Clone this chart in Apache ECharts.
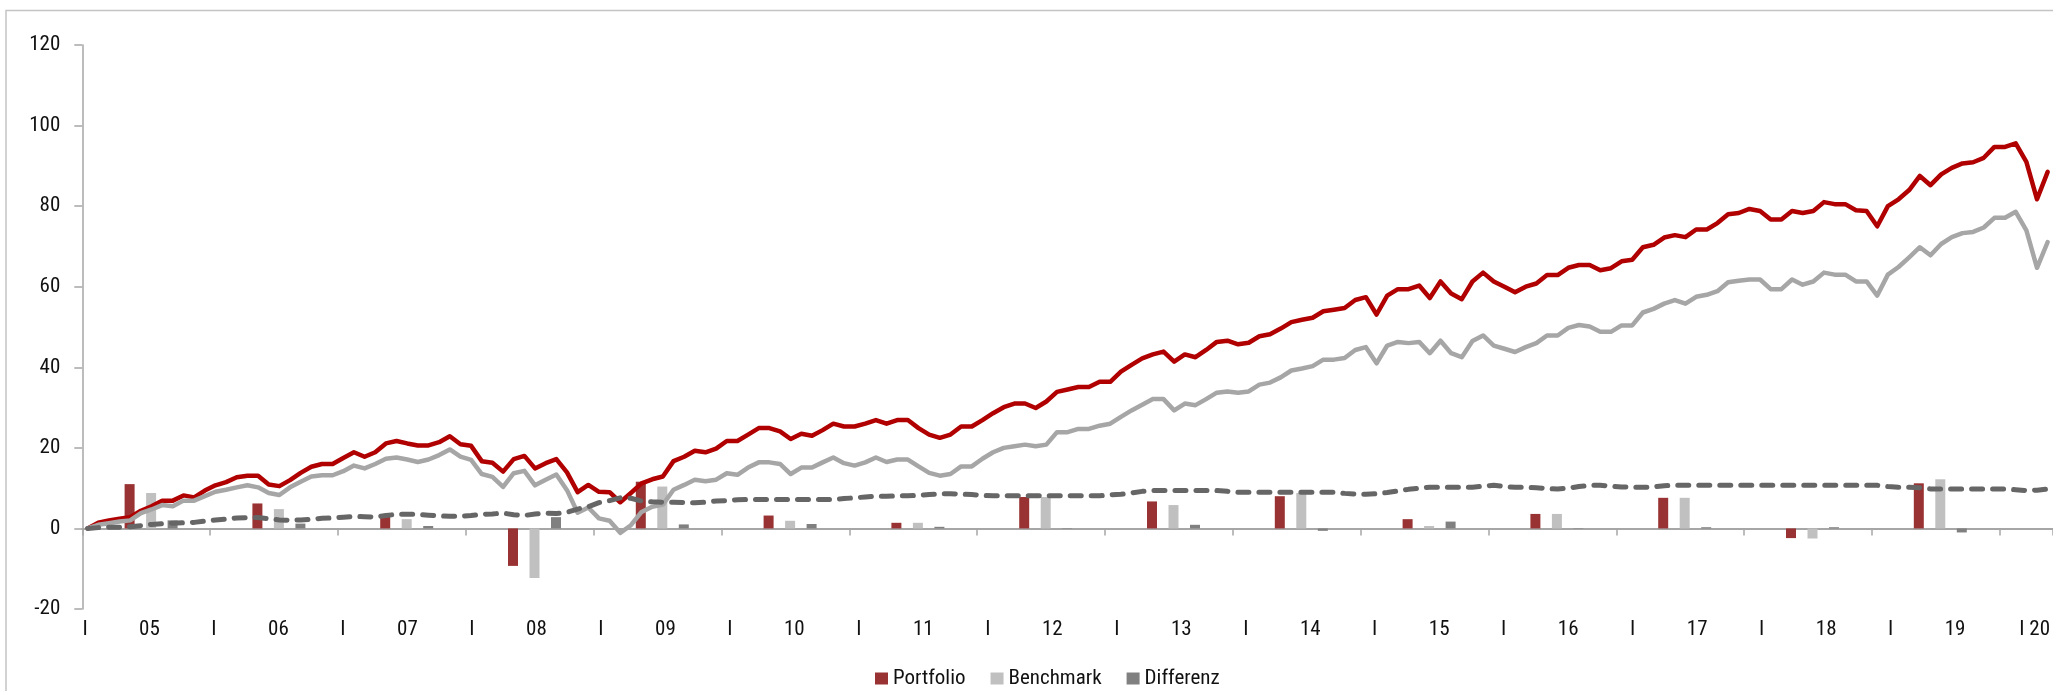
<!DOCTYPE html>
<html>
<head>
<meta charset="utf-8">
<script src="https://cdn.jsdelivr.net/npm/echarts@6/dist/echarts.min.js"></script>
<style>
  html, body { margin: 0; padding: 0; background: #fff; }
  #chart { width: 2053px; height: 691px; }
</style>
</head>
<body>
<div id="chart"></div>
<script>
// ---- Data ----
const startYear = 2004, startMonth = 12, monthCount = 185;

const portfolioCum = [
  0, 1.4, 2.0, 2.4, 2.8, 4.4, 5.5, 6.9, 6.9, 8.2, 7.7, 9.4,
  10.7, 11.5, 12.7, 13.1, 13.1, 10.9, 10.5, 12.0, 13.8, 15.3, 16.0, 16.0,
  17.5, 18.9, 17.8, 18.9, 21.1, 21.7, 21.1, 20.6, 20.6, 21.4, 22.9, 20.9,
  20.5, 16.7, 16.3, 14.1, 17.2, 18.0, 14.9, 16.2, 17.2, 13.9, 9.0, 10.8,
  9.1, 9.0, 6.5, 8.8, 11.2, 12.2, 12.9, 16.7, 17.8, 19.3, 18.9, 19.8,
  21.7, 21.7, 23.3, 24.9, 24.9, 24.1, 22.2, 23.5, 23.0, 24.4, 26.0, 25.3,
  25.3, 26.0, 26.9, 26.0, 26.9, 26.9, 24.9, 23.3, 22.5, 23.3, 25.3, 25.3,
  26.9, 28.6, 30.1, 31.0, 31.0, 29.9, 31.5, 33.9, 34.5, 35.1, 35.1, 36.4,
  36.4, 38.9, 40.6, 42.2, 43.2, 43.9, 41.4, 43.2, 42.5, 44.3, 46.3, 46.6,
  45.7, 46.1, 47.7, 48.2, 49.6, 51.2, 51.8, 52.3, 53.9, 54.3, 54.7, 56.7,
  57.4, 53.1, 57.8, 59.4, 59.4, 60.3, 57.2, 61.3, 58.3, 56.9, 61.3, 63.5,
  61.3, 60.0, 58.6, 60.0, 60.8, 62.9, 62.9, 64.7, 65.4, 65.4, 64.1, 64.6,
  66.3, 66.7, 69.8, 70.4, 72.2, 72.8, 72.3, 74.2, 74.2, 75.8, 78.0, 78.3,
  79.3, 78.8, 76.7, 76.7, 78.8, 78.3, 78.8, 81.0, 80.5, 80.5, 79.0, 78.8,
  75.0, 80.0, 81.7, 84.0, 87.5, 85.2, 87.9, 89.5, 90.6, 90.9, 92.0, 94.7,
  94.7, 95.6, 91.0, 81.7, 88.5
];

const benchmarkCum = [
  0, 0.9, 1.3, 1.7, 2.0, 3.8, 4.7, 5.8, 5.5, 6.9, 6.9, 8.0,
  9.1, 9.6, 10.2, 10.7, 10.2, 8.8, 8.3, 10.2, 11.6, 12.9, 13.2, 13.2,
  14.2, 15.6, 14.9, 16.0, 17.3, 17.6, 17.1, 16.5, 17.1, 18.2, 19.6, 17.8,
  17.0, 13.5, 12.8, 10.3, 13.7, 14.3, 10.7, 12.1, 13.4, 9.5, 3.9, 5.2,
  2.5, 1.9, -1.1, 0.8, 4.1, 5.4, 5.9, 9.6, 10.8, 12.1, 11.7, 12.1,
  13.7, 13.3, 15.1, 16.4, 16.4, 16.0, 13.5, 15.1, 15.1, 16.4, 17.6, 16.2,
  15.6, 16.4, 17.6, 16.5, 17.1, 17.1, 15.4, 13.8, 13.1, 13.5, 15.4, 15.4,
  17.3, 18.9, 20.0, 20.4, 20.8, 20.4, 20.8, 23.9, 23.9, 24.7, 24.7, 25.5,
  26.0, 27.7, 29.3, 30.7, 32.1, 32.1, 29.3, 31.0, 30.6, 32.1, 33.7, 34.0,
  33.7, 34.0, 35.7, 36.2, 37.5, 39.2, 39.7, 40.3, 41.9, 41.9, 42.3, 44.3,
  45.0, 41.0, 45.4, 46.3, 46.0, 46.3, 43.5, 46.6, 43.5, 42.5, 46.5, 47.9,
  45.4, 44.6, 43.8, 45.0, 46.0, 47.9, 47.9, 49.8, 50.5, 50.1, 48.8, 48.8,
  50.4, 50.4, 53.6, 54.5, 55.8, 56.7, 55.8, 57.5, 58.0, 58.9, 61.1, 61.5,
  61.8, 61.8, 59.4, 59.4, 61.8, 60.5, 61.3, 63.5, 63.0, 63.0, 61.3, 61.3,
  57.8, 63.0, 64.9, 67.3, 69.8, 67.8, 70.6, 72.3, 73.3, 73.6, 74.7, 77.1,
  77.1, 78.6, 74.0, 64.7, 71.1
];

const differenzCum = [
  0, 0.2, 0.3, 0.3, 0.4, 0.7, 1.0, 1.2, 1.3, 1.4, 1.5, 1.8,
  2.1, 2.3, 2.6, 2.7, 2.7, 2.4, 2.1, 2.0, 2.1, 2.3, 2.5, 2.6,
  2.8, 3.0, 2.9, 2.8, 3.2, 3.5, 3.5, 3.5, 3.3, 3.1, 3.0, 3.0,
  3.2, 3.5, 3.6, 3.8, 3.4, 3.2, 3.6, 3.8, 3.7, 4.0, 4.8, 5.4,
  6.4, 6.9, 7.6, 7.5, 6.8, 6.6, 6.5, 6.5, 6.4, 6.4, 6.5, 6.8,
  6.9, 7.1, 7.2, 7.2, 7.2, 7.2, 7.2, 7.2, 7.2, 7.2, 7.2, 7.4,
  7.6, 7.8, 8.0, 8.0, 8.1, 8.1, 8.2, 8.4, 8.6, 8.6, 8.5, 8.4,
  8.2, 8.1, 8.1, 8.1, 8.1, 8.1, 8.1, 8.1, 8.1, 8.1, 8.1, 8.1,
  8.3, 8.5, 8.8, 9.2, 9.4, 9.4, 9.4, 9.4, 9.4, 9.4, 9.4, 9.2,
  9.0, 9.0, 9.0, 9.0, 9.0, 9.0, 9.0, 9.0, 9.0, 9.0, 8.7, 8.5,
  8.5, 8.6, 8.9, 9.3, 9.7, 10.0, 10.2, 10.2, 10.2, 10.2, 10.2, 10.5,
  10.7, 10.4, 10.2, 10.2, 10.1, 9.9, 9.8, 10.0, 10.4, 10.7, 10.7, 10.5,
  10.3, 10.2, 10.2, 10.3, 10.6, 10.7, 10.7, 10.7, 10.7, 10.7, 10.7, 10.7,
  10.7, 10.7, 10.7, 10.7, 10.7, 10.7, 10.7, 10.7, 10.7, 10.7, 10.7, 10.7,
  10.7, 10.4, 10.2, 10.2, 10.1, 9.8, 9.8, 9.8, 9.8, 9.8, 9.8, 9.8,
  9.8, 9.6, 9.4, 9.5, 9.8
];

const years = ['05','06','07','08','09','10','11','12','13','14','15','16','17','18','19'];
const portfolioYear = [11.0, 6.2, 2.9, -9.3, 11.6, 3.2, 1.4, 7.8, 6.7, 8.0, 2.3, 3.6, 7.6, -2.4, 11.2];
const benchmarkYear = [8.8, 4.8, 2.3, -12.3, 10.4, 1.9, 1.4, 7.8, 5.8, 8.8, 0.6, 3.6, 7.6, -2.5, 12.2];
const differenzYear = [2.0, 1.2, 0.6, 2.8, 1.0, 1.1, 0.4, -0.1, 0.9, -0.6, 1.7, -0.1, 0.3, 0.3, -1.0];

const separatorLabel = 'I';
const lastLabel = 'I 20';
const yMin = -20, yMax = 120, yStep = 20;

// ---- Build ----
const months = [];
for (let i = 0; i < monthCount; i++) {
  const t = (startMonth - 1) + i;
  const y = startYear + Math.floor(t / 12);
  const m = (t % 12) + 1;
  months.push(y + '-' + String(m).padStart(2, '0'));
}
const xLabels = [];
years.forEach(y => { xLabels.push(separatorLabel); xLabels.push(y); });
xLabels.push(lastLabel);

const FONT = "'Roboto Condensed', 'DejaVu Sans Condensed', sans-serif";
const FS = 21;
const TXT = '#111111';
const AXIS_GRAY = '#A6A6A6';

const chart = echarts.init(document.getElementById('chart'), null, { renderer: 'canvas' });

const option = {
  backgroundColor: '#ffffff',
  animation: false,
  textStyle: { fontFamily: FONT },
  graphic: [{
    type: 'rect', silent: true, z: -10,
    shape: { x: 6, y: 10.5, width: 2200, height: 900 },
    style: { fill: 'none', stroke: '#C4C4C4', lineWidth: 1.5 }
  }],
  legend: {
    data: ['Portfolio', 'Benchmark', 'Differenz'],
    left: 875, top: 668,
    itemWidth: 13, itemHeight: 12, itemGap: 25,
    padding: 0,
    icon: 'rect',
    textStyle: { fontSize: FS, color: TXT, fontFamily: FONT }
  },
  grid: [
    { left: 82.3, top: 45, width: 1970.7, height: 564 },
    { left: 87.2, top: 45, width: 1917, height: 564 },
    { left: 85, top: 45, width: 1935, height: 564 }
  ],
  xAxis: [
    {
      gridIndex: 0, type: 'category', data: months, boundaryGap: true,
      axisLine: { onZero: true, lineStyle: { color: AXIS_GRAY, width: 2 } },
      axisTick: { show: true, interval: 11, length: 7, lineStyle: { color: AXIS_GRAY, width: 1.5 } },
      axisLabel: { show: false }, splitLine: { show: false }
    },
    {
      gridIndex: 1, type: 'category', data: years, boundaryGap: true, show: false
    },
    {
      gridIndex: 2, type: 'category', data: xLabels, boundaryGap: false, position: 'bottom',
      axisLine: { show: false, onZero: false },
      axisTick: { show: false },
      splitLine: { show: false },
      axisLabel: {
        interval: 0, margin: 10, fontSize: FS, color: TXT, fontFamily: FONT,
        formatter: function (v) { return v === lastLabel ? '{e|' + v + '}' : v; },
        rich: { e: { fontSize: FS, color: TXT, fontFamily: FONT, padding: [0, 0, 0, 30] } }
      }
    }
  ],
  yAxis: [
    {
      gridIndex: 0, type: 'value', min: yMin, max: yMax, interval: yStep,
      axisLine: { show: true, lineStyle: { color: AXIS_GRAY, width: 1.5 } },
      axisTick: { show: true, length: 8, lineStyle: { color: AXIS_GRAY, width: 1.5 } },
      axisLabel: { fontSize: FS, color: TXT, margin: 22, fontFamily: FONT },
      splitLine: { show: false }
    },
    { gridIndex: 1, type: 'value', min: yMin, max: yMax, interval: yStep, show: false, splitLine: { show: false } },
    { gridIndex: 2, type: 'value', min: yMin, max: yMax, interval: yStep, show: false, splitLine: { show: false } }
  ],
  series: [
    { name: 'Portfolio', type: 'bar', xAxisIndex: 1, yAxisIndex: 1, data: portfolioYear, barWidth: 10, barGap: '115%', z: 1, itemStyle: { color: '#993333' } },
    { name: 'Benchmark', type: 'bar', xAxisIndex: 1, yAxisIndex: 1, data: benchmarkYear, barWidth: 10, barGap: '115%', z: 1, itemStyle: { color: '#C0C0C0' } },
    { name: 'Differenz', type: 'bar', xAxisIndex: 1, yAxisIndex: 1, data: differenzYear, barWidth: 10, barGap: '115%', z: 1, itemStyle: { color: '#808080' } },
    { name: 'Portfolio kumuliert', type: 'line', xAxisIndex: 0, yAxisIndex: 0, data: portfolioCum, symbol: 'none', z: 3,
      lineStyle: { color: '#B00000', width: 4.5, join: 'round', cap: 'round' } },
    { name: 'Benchmark kumuliert', type: 'line', xAxisIndex: 0, yAxisIndex: 0, data: benchmarkCum, symbol: 'none', z: 4,
      lineStyle: { color: '#A6A6A6', width: 4.5, join: 'round', cap: 'round' } },
    { name: 'Differenz kumuliert', type: 'line', xAxisIndex: 0, yAxisIndex: 0, data: differenzCum, symbol: 'none', z: 5,
      lineStyle: { color: '#666666', width: 5, type: [11, 10], cap: 'round', join: 'round' } }
  ]
};
chart.setOption(option);
</script>
</body>
</html>
